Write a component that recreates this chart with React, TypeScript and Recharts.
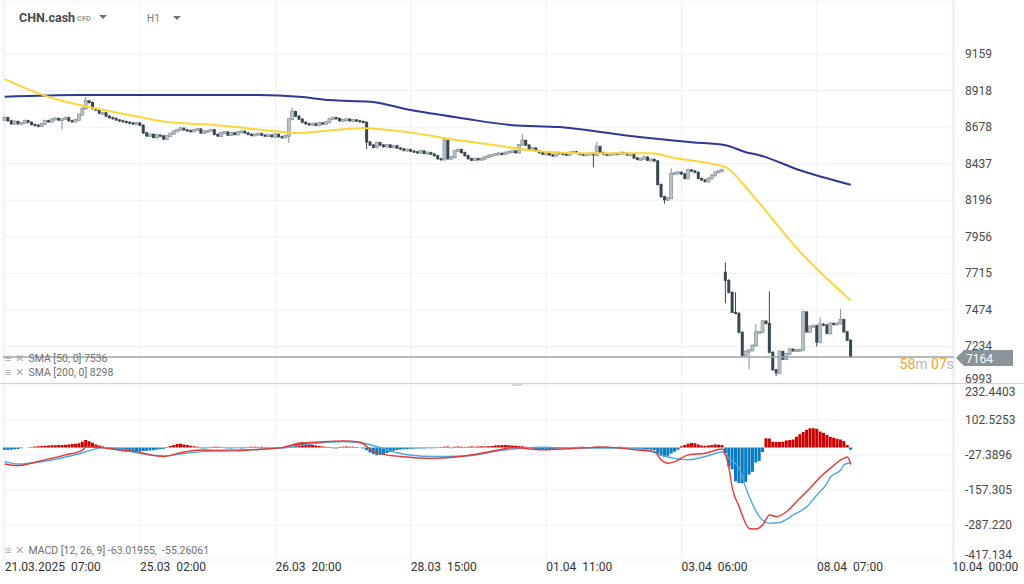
import React from 'react';
import {
  Bar,
  CartesianGrid,
  Cell,
  ComposedChart,
  Line,
  ReferenceLine,
  XAxis,
  YAxis,
} from 'recharts';

// x axis: one slot per H1 candle, labels every 40 slots
const slotCount = 281;
const timeLabels = [
  '21.03.2025  07:00',
  '25.03  02:00',
  '26.03  20:00',
  '28.03  15:00',
  '01.04  11:00',
  '03.04  06:00',
  '08.04  07:00',
  '10.04  00:00',
];

// candle closes
const closes = [
  8740, 8720, 8700, 8715, 8700, 8705, 8720, 8710, 8695, 8690,
  8685, 8700, 8720, 8715, 8730, 8735, 8725, 8730, 8740, 8720,
  8715, 8725, 8760, 8800, 8850, 8840, 8800, 8790, 8770, 8772,
  8750, 8740, 8735, 8725, 8720, 8715, 8710, 8705, 8700, 8705,
  8690, 8640, 8620, 8630, 8610, 8625, 8620, 8600, 8620, 8635,
  8650, 8660, 8670, 8660, 8655, 8650, 8660, 8665, 8640, 8650,
  8652, 8660, 8630, 8620, 8640, 8645, 8625, 8640, 8630, 8645,
  8650, 8640, 8630, 8625, 8630, 8635, 8625, 8620, 8625, 8615,
  8630, 8615, 8610, 8620, 8730, 8780, 8750, 8730, 8710, 8700,
  8695, 8700, 8690, 8705, 8700, 8710, 8730, 8740, 8735, 8720,
  8725, 8730, 8720, 8725, 8720, 8715, 8710, 8580, 8560, 8545,
  8575, 8560, 8550, 8560, 8545, 8555, 8540, 8535, 8525, 8530,
  8520, 8515, 8510, 8520, 8505, 8510, 8500, 8490, 8470, 8465,
  8590, 8470, 8480, 8520, 8530, 8510, 8490, 8470, 8460, 8470,
  8465, 8470, 8480, 8490, 8495, 8500, 8505, 8500, 8510, 8515,
  8520, 8510, 8560, 8590, 8560, 8530, 8540, 8520, 8510, 8500,
  8505, 8495, 8490, 8510, 8505, 8500, 8495, 8510, 8515, 8505,
  8500, 8495, 8500, 8505, 8495, 8550, 8510, 8500, 8495, 8500,
  8505, 8500, 8510, 8505, 8495, 8500, 8475, 8465, 8470, 8480,
  8460, 8465, 8455, 8300, 8220, 8200, 8210, 8370, 8375, 8380,
  8370, 8340, 8395, 8390, 8380, 8340, 8330, 8320, 8340, 8360,
  8380, 8390, 8395, 7669, 7590, 7458, 7452, 7327, 7175, 7200,
  7208, 7240, 7327, 7330, 7400, 7385, 7195, 7080, 7060, 7200,
  7150, 7185, 7215, 7205, 7210, 7212, 7460, 7330, 7365, 7370,
  7262, 7380, 7375, 7320, 7385, 7380, 7385, 7410, 7330, 7275,
  7164,
];

// opens that differ from the previous close (first bar, weekend gap)
const openIdx = [0, 213];
const openVals = [8725, 7722];

// visible wicks
const wickIdx = [17, 24, 84, 85, 107, 130, 153, 174, 175, 195, 197, 213, 216, 220, 222, 226, 228, 240, 241, 247];
const wickHigh = [null, 8870, null, 8800, null, 8605, 8625, null, 8575, null, 8400, 7781, 7584, null, 7373, 7590, null, null, 7420, 7475];
const wickLow = [8670, null, 8580, null, 8540, null, null, 8420, null, 8180, null, 7524, null, 7090, null, null, 7045, 7240, null, null];

const sma50Idx = [0, 13, 25, 40, 48, 63, 77, 87, 91, 106, 119, 130, 145, 155, 170, 191, 198, 211, 213, 219, 223, 236, 241, 250];
const sma50Vals = [8994, 8876, 8810, 8744, 8711, 8691, 8658, 8638, 8645, 8671, 8645, 8605, 8559, 8526, 8506, 8506, 8474, 8427, 8414, 8282, 8177, 7834, 7722, 7536];
const sma200Idx = [0, 22, 75, 87, 96, 108, 120, 135, 150, 164, 183, 203, 213, 219, 223, 235, 250];
const sma200Vals = [8878, 8889, 8889, 8878, 8856, 8845, 8790, 8737, 8691, 8678, 8625, 8579, 8559, 8513, 8493, 8394, 8298];

const macdIdx = [0, 4, 8, 13, 18, 23, 24, 29, 34, 39, 43, 47, 52, 58, 67, 77, 82, 87, 92, 100, 105, 109, 112, 117, 126, 136, 146, 150, 159, 168, 178, 187, 192, 194, 196, 198, 202, 207, 212, 213, 214, 215, 217, 220, 222, 224, 226, 228, 231, 234, 238, 241, 244, 248, 249, 250];
const macdVals = [-61, -67, -57, -42, -27, -9, 3, -1, -9, -15, -27, -33, -19, -9, -12, -5, 0, 16, 20, 25, 20, -15, -25, -33, -40, -31, -9, 0, -8, -3, 2, -9, -15, -46, -58, -52, -27, -21, -5, -27, -76, -150, -219, -300, -302, -286, -250, -256, -238, -200, -150, -109, -76, -39, -35, -63];
const signalIdx = [0, 4, 8, 13, 18, 23, 29, 34, 39, 47, 52, 58, 67, 77, 82, 87, 92, 100, 106, 111, 116, 126, 136, 146, 150, 159, 168, 178, 187, 192, 196, 198, 202, 207, 212, 214, 217, 219, 220, 223, 226, 229, 233, 237, 240, 243, 244, 247, 248, 250];
const signalVals = [-52, -61, -57, -48, -35, -19, 0, -5, -19, -31, -24, -15, -9, -5, 0, 8, 16, 23, 16, 0, -19, -33, -31, -12, -5, 2, -2, -2, -3, -18, -35, -40, -45, -33, -16, -40, -76, -150, -182, -256, -281, -278, -250, -219, -176, -132, -109, -83, -64, -55];

const histVals = [
  -8, -9, -8, -6, -5, -2, 0, 1, 2, 4,
  5, 6, 7, 8, 9, 9, 10, 10, 11, 12,
  13, 14, 16, 22, 28, 24, 18, 12, 8, 4,
  0, -4, -8, -10, -12, -14, -15, -16, -17, -15,
  -14, -13, -12, -11, -10, -8, -6, -4, 2, 6,
  10, 13, 14, 12, 10, 7, 5, 3, -2, -3,
  -2, 2, 3, 3, 2, -2, -3, -3, -2, -2,
  -3, -2, 2, 3, 3, 2, 3, 2, -2, -4,
  -5, -4, -3, -2, 2, 8, 14, 18, 20, 17,
  13, 10, 8, 6, 4, 3, 2, -2, -3, 2,
  3, 4, 3, 3, 2, 1, -3, -10, -18, -24,
  -28, -26, -24, -20, -16, -12, -9, -7, -6, -5,
  -4, -4, -3, -3, -3, -2, -2, -2, -1, 2,
  3, 4, -2, 3, 4, 3, 2, 3, 4, 3,
  4, 5, 4, 5, 6, 8, 9, 10, 10, 9,
  8, 7, 6, 5, 3, 1, -3, -5, -7, -8,
  -8, -7, -6, -4, -3, -2, -2, -2, 2, 2,
  3, 3, 2, 2, 3, 4, 4, 3, 3, 2,
  2, 2, 3, 2, 2, 1, -2, -4, -5, -6,
  -7, -8, -10, -20, -30, -35, -30, -22, -15, -8,
  5, 10, 14, 17, 16, 12, 8, 7, 8, 10,
  12, 11, 10, -20, -70, -80, -125, -131, -131, -128,
  -100, -90, -55, -50, -16, 35, 34, 22, 21, 21,
  22, 26, 28, 30, 40, 50, 58, 66, 72, 72,
  70, 60, 55, 47, 40, 37, 33, 30, 25, 10,
  -8,
];

const priceTicks = [6993, 7234, 7474, 7715, 7956, 8196, 8437, 8678, 8918, 9159];
const macdTicks = [-417.134, -287.22, -157.305, -27.3896, 102.5253, 232.4403];
const macdTickText = ['-417.134', '-287.220', '-157.305', '-27.3896', '102.5253', '232.4403'];
const lastPrice = 7164;
const sma50Last = 7536;
const sma200Last = 8298;
const macdLast = '-63.01955';
const signalLast = '-55.26061';

type Row = {
  i: number;
  o?: number;
  c?: number;
  range?: [number, number];
  sma50?: number;
  sma200?: number;
  macd?: number;
  signal?: number;
  hist?: number;
};

const rows: Row[] = Array.from({ length: slotCount }, (_, i) => ({ i }));
closes.forEach((c, i) => {
  const k = openIdx.indexOf(i);
  const o = k >= 0 ? openVals[k] : closes[i - 1];
  const w = wickIdx.indexOf(i);
  let hi = Math.max(o, c);
  let lo = Math.min(o, c);
  if (w >= 0) {
    if (wickHigh[w] != null) hi = Math.max(hi, wickHigh[w] as number);
    if (wickLow[w] != null) lo = Math.min(lo, wickLow[w] as number);
  }
  rows[i].o = o;
  rows[i].c = c;
  rows[i].range = [lo, hi];
});
sma50Idx.forEach((ix, k) => (rows[ix].sma50 = sma50Vals[k]));
sma200Idx.forEach((ix, k) => (rows[ix].sma200 = sma200Vals[k]));
macdIdx.forEach((ix, k) => (rows[ix].macd = macdVals[k]));
signalIdx.forEach((ix, k) => (rows[ix].signal = signalVals[k]));
histVals.forEach((h, i) => (rows[i].hist = h));

const FONT = 'Roboto, sans-serif';

function Candle(props: any) {
  const { x, y, width, height, payload } = props;
  if (!payload || !payload.range) return null;
  const [lo, hi] = payload.range;
  const span = hi - lo || 1;
  const top = Math.max(payload.o, payload.c);
  const bot = Math.min(payload.o, payload.c);
  const yTop = y + ((hi - top) / span) * height;
  const yBot = y + ((hi - bot) / span) * height;
  const cx = x + width / 2;
  const up = payload.c >= payload.o;
  const bw = 3;
  const color = up ? '#849097' : '#37474f';
  return (
    <g>
      <line x1={cx} x2={cx} y1={y - 1} y2={y + Math.max(height, 1) + 1} stroke={color} strokeWidth={1} />
      <rect
        x={cx - bw / 2}
        y={yTop - 0.5}
        width={bw}
        height={Math.max(yBot - yTop, 1) + 1}
        fill={up ? '#b8c2c7' : '#37474f'}
        stroke={up ? '#849097' : 'none'}
        strokeWidth={0.7}
      />
    </g>
  );
}

function PriceTick(props: any) {
  const { x, y, payload } = props;
  const yy = payload.value === priceTicks[0] ? y - 4 : y;
  return (
    <text x={x} y={yy} dy={4} fill="#4a4a4a" fontSize={12} fontFamily={FONT} textAnchor="start">
      {payload.value}
    </text>
  );
}

function MacdTick(props: any) {
  const { x, y, payload } = props;
  const k = macdTicks.indexOf(payload.value);
  const shift = k === 0 ? -5 : k === macdTicks.length - 1 ? 7 : 0;
  return (
    <text x={x} y={y + shift} dy={4} fill="#4a4a4a" fontSize={12} fontFamily={FONT} textAnchor="start">
      {macdTickText[k]}
    </text>
  );
}

function TimeTick(props: any) {
  const { x, y, payload } = props;
  return (
    <text
      x={x}
      y={y}
      dy={10.5}
      fill="#333"
      fontSize={12}
      fontFamily={FONT}
      textAnchor="start"
      style={{ whiteSpace: 'pre' }}
    >
      {timeLabels[payload.value / 40]}
    </text>
  );
}

function PriceTag(props: any) {
  const vb = props.viewBox || {};
  const r = vb.x + vb.width;
  const y = vb.y;
  return (
    <g>
      <polygon
        points={`${r + 2},${y + 1} ${r + 10},${y - 7} ${r + 59},${y - 7} ${r + 59},${y + 9} ${r + 10},${y + 9}`}
        fill="#8a9397"
      />
      <text x={r + 12} y={y + 5.5} fill="#fff" fontSize={12} fontFamily={FONT}>
        {lastPrice}
      </text>
      <text x={r} y={y + 12} fontSize={14} fontFamily={FONT} textAnchor="end">
        <tspan fill="#f5a623">58</tspan>
        <tspan fill="#b5bbbf">m </tspan>
        <tspan fill="#f5a623">07</tspan>
        <tspan fill="#b5bbbf">s</tspan>
      </text>
    </g>
  );
}

const iconStyle: React.CSSProperties = { color: '#a9a9a9', fontSize: 11, marginRight: 4 };

function LegendRow({ top, text }: { top: number; text: string }) {
  return (
    <div
      style={{
        position: 'absolute',
        left: 5,
        top,
        fontSize: 10.5,
        color: '#707070',
        fontFamily: FONT,
        lineHeight: '12px',
        whiteSpace: 'pre',
      }}
    >
      <span style={iconStyle}>≡</span>
      <span style={iconStyle}>✕</span>
      {text}
    </div>
  );
}

function Caret({ left, top }: { left: number; top: number }) {
  return (
    <div
      style={{
        position: 'absolute',
        left,
        top,
        width: 0,
        height: 0,
        borderLeft: '4px solid transparent',
        borderRight: '4px solid transparent',
        borderTop: '4px solid #707070',
      }}
    />
  );
}

export default function App() {
  return (
    <div
      style={{
        position: 'fixed',
        left: 0,
        top: 0,
        width: 1024,
        height: 584,
        background: '#fff',
        overflow: 'hidden',
        fontFamily: FONT,
      }}
    >
      <div style={{ position: 'absolute', left: 0, top: 0 }}>
        <ComposedChart
          width={1024}
          height={387}
          data={rows}
          margin={{ top: 0, right: 0, bottom: 4, left: 3 }}
          barCategoryGap={0}
        >
          <CartesianGrid stroke="#eef0f2" />
          <XAxis dataKey="i" hide interval={39} />
          <YAxis
            orientation="right"
            width={70}
            domain={[6993, 9515]}
            ticks={priceTicks}
            interval={0}
            allowDataOverflow
            axisLine={{ stroke: '#e6e8ea' }}
            tickLine={false}
            tickSize={0}
            tickMargin={11}
            tick={<PriceTick />}
          />
          <Bar dataKey="range" shape={<Candle />} isAnimationActive={false} />
          <Line
            dataKey="sma200"
            stroke="#2e3897"
            strokeWidth={2}
            dot={false}
            type="monotone"
            connectNulls
            isAnimationActive={false}
          />
          <Line
            dataKey="sma50"
            stroke="#fcd53a"
            strokeWidth={2}
            dot={false}
            type="monotone"
            connectNulls
            isAnimationActive={false}
          />
          <ReferenceLine y={lastPrice} stroke="#9aa4a9" strokeWidth={1.5} label={<PriceTag />} />
        </ComposedChart>
      </div>

      <div style={{ position: 'absolute', left: 0, top: 383, width: 1024, height: 1, background: '#cfd4d7' }} />
      <div style={{ position: 'absolute', left: 512, top: 384, width: 10, height: 2, background: '#b9bfc3' }} />

      <div style={{ position: 'absolute', left: 0, top: 384 }}>
        <ComposedChart
          width={1024}
          height={200}
          data={rows}
          margin={{ top: 1, right: 0, bottom: 0, left: 3 }}
          barCategoryGap={0}
        >
          <CartesianGrid stroke="#eef0f2" />
          <XAxis
            dataKey="i"
            interval={39}
            height={24}
            axisLine={false}
            tickLine={false}
            tickSize={0}
            tickMargin={0}
            tick={<TimeTick />}
          />
          <YAxis
            orientation="right"
            width={70}
            domain={[-417.134, 232.4403]}
            ticks={macdTicks}
            interval={0}
            allowDataOverflow
            axisLine={{ stroke: '#e6e8ea' }}
            tickLine={false}
            tickSize={0}
            tickMargin={11}
            tick={<MacdTick />}
          />
          <Bar dataKey="hist" isAnimationActive={false}>
            {rows.map((r) => (
              <Cell key={r.i} fill={(r.hist ?? 0) >= 0 ? '#cc0000' : '#0a7cc2'} />
            ))}
          </Bar>
          <Line
            dataKey="signal"
            stroke="#4ea8de"
            strokeWidth={1.4}
            dot={false}
            type="monotone"
            connectNulls
            isAnimationActive={false}
          />
          <Line
            dataKey="macd"
            stroke="#e53935"
            strokeWidth={1.4}
            dot={false}
            type="monotone"
            connectNulls
            isAnimationActive={false}
          />
        </ComposedChart>
      </div>

      <div style={{ position: 'absolute', left: 19, top: 10, fontSize: 12.5, fontWeight: 700, color: '#4a4a4a' }}>
        CHN.cash
      </div>
      <div style={{ position: 'absolute', left: 77, top: 14, fontSize: 7.5, fontWeight: 700, color: '#9a9a9a' }}>CFD</div>
      <Caret left={99} top={15} />
      <div style={{ position: 'absolute', left: 147, top: 13, fontSize: 10, color: '#777' }}>H1</div>
      <Caret left={173} top={16} />

      <LegendRow top={353} text={`SMA [50, 0] ${sma50Last}`} />
      <LegendRow top={367} text={`SMA [200, 0] ${sma200Last}`} />
      <LegendRow top={545} text={`MACD [12, 26, 9] ${macdLast},  ${signalLast}`} />
    </div>
  );
}
